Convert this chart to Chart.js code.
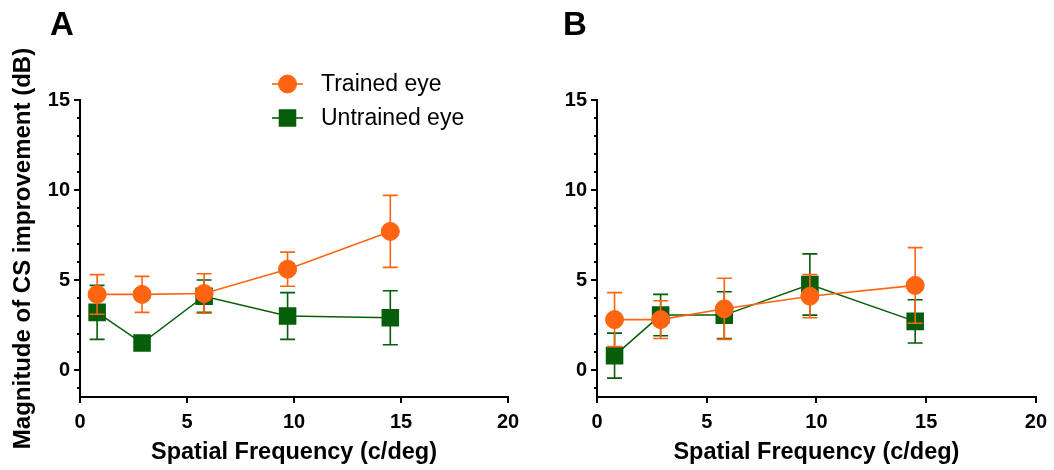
<!DOCTYPE html>
<html>
<head>
<meta charset="utf-8">
<script src="https://cdn.jsdelivr.net/npm/chart.js@4.4.1/dist/chart.umd.min.js"></script>
<style>
  body { margin: 0; background: #fff; }
  #wrap { position: relative; width: 1054px; height: 470px; }
  canvas { position: absolute; top: 0; }
  .panel-label { position: absolute; top: 7px; font: bold 33px "Liberation Sans", Arial, sans-serif; line-height: 33px; color: #000; }
</style>
</head>
<body>
<div id="wrap">
  <canvas id="panelA" width="530" height="470" style="left:0"></canvas>
  <canvas id="panelB" width="514" height="470" style="left:540px"></canvas>
  <div class="panel-label" style="left:50px">A</div>
  <div class="panel-label" style="left:563px">B</div>
</div>
<script>
// spatial frequencies tested (c/deg)
const freqs = [0.8, 2.9, 5.8, 9.7, 14.5];

// panel A: mean CS improvement (dB) and error
const trainedA = [4.2, 4.2, 4.25, 5.6, 7.7];
const trainedAErr = [1.1, 1.0, 1.1, 0.95, 2.0];
const untrainedA = [3.2, 1.5, 4.1, 3.0, 2.9];
const untrainedAErr = [1.5, 0.3, 0.9, 1.3, 1.5];

// panel B
const trainedB = [2.8, 2.8, 3.4, 4.1, 4.7];
const trainedBErr = [1.5, 1.05, 1.7, 1.2, 2.1];
const untrainedB = [0.8, 3.05, 3.05, 4.75, 2.7];
const untrainedBErr = [1.25, 1.15, 1.3, 1.7, 1.2];

const xTicks = [0, 5, 10, 15, 20];
const yTicks = [0, 5, 10, 15];
const seriesNames = ["Trained eye", "Untrained eye"];

const ORANGE = "#ff6410";
const GREEN = "#075e0a";

Chart.defaults.font.family = '"Liberation Sans", Arial, sans-serif';
Chart.defaults.color = "#000";

function toPoints(ys) {
  return freqs.map((x, i) => ({ x: x, y: ys[i] }));
}

function trainedSet(ys, errs) {
  return {
    label: seriesNames[0],
    data: toPoints(ys),
    errors: errs,
    showLine: true,
    borderColor: ORANGE,
    backgroundColor: ORANGE,
    borderWidth: 1.6,
    pointStyle: "circle",
    pointRadius: 9,
    pointBorderWidth: 1,
    pointBorderColor: ORANGE,
    pointBackgroundColor: ORANGE
  };
}

function untrainedSet(ys, errs) {
  return {
    label: seriesNames[1],
    data: toPoints(ys),
    errors: errs,
    showLine: true,
    borderColor: GREEN,
    backgroundColor: GREEN,
    borderWidth: 1.5,
    pointStyle: "rect",
    pointRadius: 11,
    pointBorderWidth: 2,
    pointBorderColor: GREEN,
    pointBackgroundColor: GREEN
  };
}

// vertical error bars with caps, drawn just before each dataset's own line/markers
const errorBars = {
  id: "errorBars",
  beforeDatasetDraw(chart, args) {
    const ds = chart.data.datasets[args.index];
    if (!ds.errors) return;
    const yScale = chart.scales.y;
    const ctx = chart.ctx;
    ctx.save();
    ctx.strokeStyle = ds.borderColor;
    ctx.lineWidth = 1.6;
    args.meta.data.forEach((pt, i) => {
      const v = ds.data[i].y;
      const e = ds.errors[i];
      const top = yScale.getPixelForValue(v + e);
      const bot = yScale.getPixelForValue(v - e);
      const x = pt.x;
      ctx.beginPath();
      ctx.moveTo(x, top);
      ctx.lineTo(x, bot);
      ctx.moveTo(x - 7.5, top);
      ctx.lineTo(x + 7.5, top);
      ctx.moveTo(x - 7.5, bot);
      ctx.lineTo(x + 7.5, bot);
      ctx.stroke();
    });
    ctx.restore();
  }
};

// short unlabelled ticks at every unit on the y axis
const minorTicks = {
  id: "minorTicks",
  afterDraw(chart) {
    const y = chart.scales.y;
    const ctx = chart.ctx;
    const left = chart.chartArea.left;
    ctx.save();
    ctx.strokeStyle = "#000";
    ctx.lineWidth = 2;
    for (let v = Math.ceil(y.min); v <= y.max; v++) {
      if (yTicks.includes(v)) continue;
      const py = Math.round(y.getPixelForValue(v));
      ctx.beginPath();
      ctx.moveTo(left - 3, py);
      ctx.lineTo(left, py);
      ctx.stroke();
    }
    ctx.restore();
  }
};

// legend with line-through-marker samples
const lineLegend = {
  id: "lineLegend",
  afterDraw(chart, args, opts) {
    if (!opts.show) return;
    const ctx = chart.ctx;
    ctx.save();
    chart.data.datasets.forEach((ds, i) => {
      const cy = opts.y + i * opts.gap;
      ctx.strokeStyle = ds.borderColor;
      ctx.lineWidth = 1.6;
      ctx.beginPath();
      ctx.moveTo(opts.x, cy);
      ctx.lineTo(opts.x + 31, cy);
      ctx.stroke();
      ctx.fillStyle = ds.pointBackgroundColor;
      ctx.strokeStyle = ds.pointBorderColor;
      ctx.lineWidth = ds.pointBorderWidth;
      Chart.helpers.drawPoint(ctx, {
        pointStyle: ds.pointStyle,
        radius: ds.pointRadius,
        rotation: 0,
        borderWidth: ds.pointBorderWidth
      }, opts.x + 15.5, cy);
      ctx.fillStyle = "#000";
      ctx.font = '23px "Liberation Sans", Arial, sans-serif';
      ctx.textBaseline = "middle";
      ctx.textAlign = "left";
      ctx.fillText(ds.label, opts.x + 49, cy + 1);
    });
    ctx.restore();
  }
};

function makePanel(id, datasets, yAxisWidth, rightPad, withTitle, withLegend) {
  return new Chart(document.getElementById(id), {
    type: "scatter",
    data: { datasets: datasets },
    plugins: [errorBars, minorTicks, lineLegend],
    options: {
      responsive: false,
      animation: false,
      layout: { padding: { left: 0, right: rightPad, top: 100, bottom: 0 } },
      plugins: {
        legend: { display: false },
        tooltip: { enabled: false },
        lineLegend: { show: withLegend, x: 272, y: 84, gap: 34 }
      },
      scales: {
        x: {
          type: "linear",
          min: 0,
          max: 20,
          afterBuildTicks: axis => { axis.ticks = xTicks.map(v => ({ value: v })); },
          afterFit: scale => { scale.height = 73; },
          grid: { drawOnChartArea: false, drawTicks: true, tickLength: 6, lineWidth: 2, color: "#000" },
          border: { display: true, color: "#000", width: 2 },
          ticks: { font: { size: 20, weight: "bold" }, color: "#000", padding: 7, maxRotation: 0 },
          title: {
            display: true,
            text: "Spatial Frequency (c/deg)",
            font: { size: 23.5, weight: "bold" },
            color: "#000",
            padding: { top: 0, bottom: 3 }
          }
        },
        y: {
          type: "linear",
          min: -1.5,
          max: 15,
          afterBuildTicks: axis => { axis.ticks = yTicks.map(v => ({ value: v })); },
          afterFit: scale => { scale.width = yAxisWidth; },
          grid: { drawOnChartArea: false, drawTicks: true, tickLength: 6, lineWidth: 2, color: "#000" },
          border: { display: true, color: "#000", width: 2 },
          ticks: { font: { size: 20, weight: "bold" }, color: "#000", padding: 4 },
          title: {
            display: withTitle,
            text: "Magnitude of CS improvement (dB)",
            font: { size: 24, weight: "bold" },
            color: "#000",
            padding: { top: 9, bottom: 0 }
          }
        }
      }
    }
  });
}

makePanel("panelA", [trainedSet(trainedA, trainedAErr), untrainedSet(untrainedA, untrainedAErr)], 80, 22, true, true);
makePanel("panelB", [trainedSet(trainedB, trainedBErr), untrainedSet(untrainedB, untrainedBErr)], 57, 12, false, false);
</script>
</body>
</html>
